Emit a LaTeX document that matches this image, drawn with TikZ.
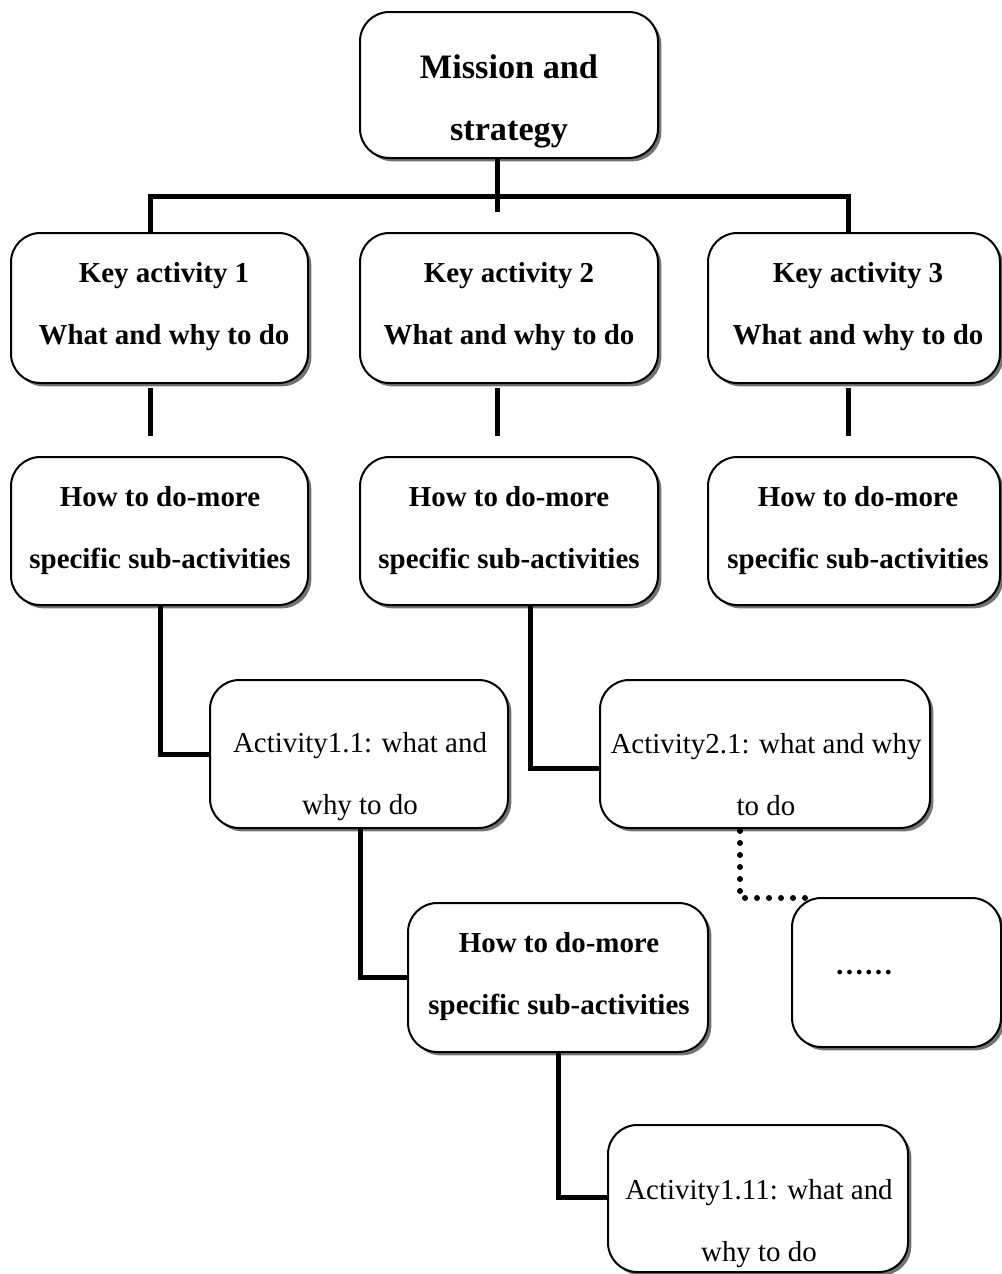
\documentclass[tikz,border=0pt]{standalone}
\usepackage{fontspec}
\setmainfont{Liberation Serif}
\usetikzlibrary{shadows}
\begin{document}
\begin{tikzpicture}[x=0.75pt,y=-0.75pt,
  box/.style={draw=black,line width=1.5pt,rounded corners=22pt,fill=white,inner sep=0pt,
    drop shadow={shadow xshift=2.5pt,shadow yshift=-2.5pt,fill=black!55,opacity=1}},
  txt/.style={align=center,inner sep=0pt,font=\fontsize{21.7}{46.5}\selectfont},
  btxt/.style={txt,font=\fontsize{21.7}{46.5}\selectfont\bfseries},
  mtxt/.style={txt,font=\fontsize{25.7}{46.5}\selectfont\bfseries},
  conn/.style={line width=3.75pt},
  dots/.style={line width=4.5pt,line cap=round,dash pattern=on 0pt off 9pt}]
\useasboundingbox (0,0) rectangle (1001,1274);
% boxes
\node[box,minimum width=223.5pt,minimum height=109.5pt] (m) at (509,85) {};
\node[box,minimum width=222.75pt,minimum height=112.5pt] (k1) at (159.5,308) {};
\node[box,minimum width=223.5pt,minimum height=112.5pt] (k2) at (509,308) {};
\node[box,minimum width=219pt,minimum height=112.5pt] (k3) at (854,308) {};
\node[box,minimum width=222.75pt,minimum height=111pt] (h1) at (159.5,531) {};
\node[box,minimum width=223.5pt,minimum height=111pt] (h2) at (509,531) {};
\node[box,minimum width=219pt,minimum height=111pt] (h3) at (854,531) {};
\node[box,minimum width=223.5pt,minimum height=111pt] (a11) at (359,754) {};
\node[box,minimum width=247.5pt,minimum height=111pt] (a21) at (765,754) {};
\node[box,minimum width=225pt,minimum height=111.75pt] (h4) at (558,977.5) {};
\node[box,minimum width=156.75pt,minimum height=111.75pt] (d) at (896.5,972.5) {};
\node[box,minimum width=225pt,minimum height=110.25pt] (a111) at (758,1198.5) {};
% texts
\node[mtxt] (tm) at (509,101) {Mission and\\strategy};
\node[btxt] (tk1) at (164,307) {Key activity 1\\ What and why to do};
\node[btxt] (tk2) at (509,307) {Key activity 2\\What and why to do};
\node[btxt] (tk3) at (858,307) {Key activity 3\\What and why to do};
\node[btxt] (th1) at (160,531) {How to do-more\\specific sub-activities};
\node[btxt] (th2) at (509,531) {How to do-more\\specific sub-activities};
\node[btxt] (th3) at (858,531) {How to do-more\\specific sub-activities};
\node[txt] (ta11) at (360,777) {Activity1.1: what and\\why to do};
\node[txt] (ta21) at (766,775) {Activity2.1: what and why\\to do};
\node[btxt] (th4) at (559,977) {How to do-more\\specific sub-activities};
\node[txt] (td) at (864,973) {\textbf{\dots\dots}};
\node[txt] (ta111) at (759,1224) {Activity1.11: what and\\why to do};
% connectors
\coordinate (j) at (497,196);
\coordinate (jl) at (150,196);
\coordinate (jr) at (848,196);
\draw[conn] (497,158) -- (497,212);
\draw[conn] (jl |- k1.north) -- (jl) -- (jr) -- (jr |- k3.north);
\coordinate (s1) at (150,436);
\coordinate (s2) at (497,436);
\coordinate (s3) at (848,436);
\draw[conn] (s1 |- k1.south) ++(0,4) -- (s1);
\draw[conn] (s2 |- k2.south) ++(0,4) -- (s2);
\draw[conn] (s3 |- k3.south) ++(0,4) -- (s3);
\coordinate (c1) at (160,754);
\draw[conn] (c1 |- h1.south) -- (c1) -- (a11.west);
\coordinate (c2) at (530,768);
\draw[conn] (c2 |- h2.south) -- (c2) -- (c2 -| a21.west);
\coordinate (c3) at (360,977);
\draw[conn] (c3 |- a11.south) -- (c3) -- (c3 -| h4.west);
\coordinate (c4) at (558,1197);
\draw[conn] (c4 |- h4.south) -- (c4) -- (c4 -| a111.west);
\coordinate (c5) at (740,898);
\draw[dots] (740,831) -- (c5) -- (806,898);
\end{tikzpicture}
\end{document}
